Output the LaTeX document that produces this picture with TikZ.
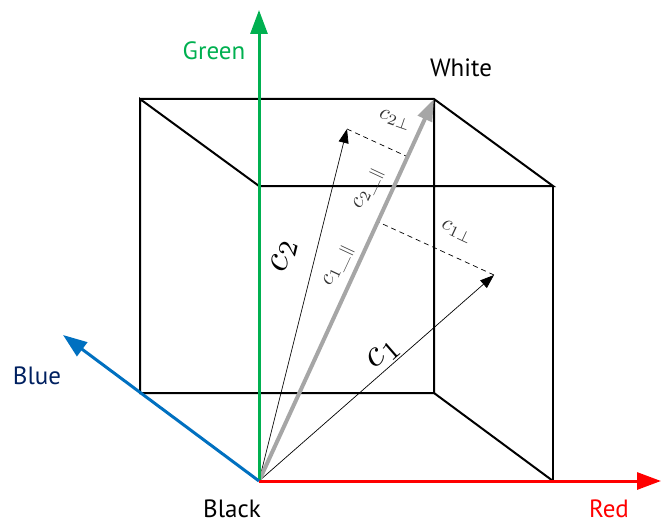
\documentclass[tikz,border=0pt]{standalone}
\usepackage{fontspec}
\newfontfamily\labfont{PT Sans}
\usetikzlibrary{arrows.meta,calc}
\definecolor{axgreen}{RGB}{0,176,80}
\definecolor{axred}{RGB}{255,0,0}
\definecolor{axblue}{RGB}{0,112,192}
\definecolor{navy}{RGB}{0,32,96}
\definecolor{vgray}{RGB}{166,166,166}
\tikzset{
  edge/.style={line width=2pt,black},
  axis/.style={line width=3pt,-{Triangle[length=24pt,width=17pt]}},
  vec/.style={line width=0.7pt,-{Triangle[length=14pt,width=10pt]}},
  proj/.style={line width=0.7pt,dash pattern=on 5pt off 4pt},
  axlabel/.style={font=\labfont\fontsize{25}{30}\selectfont,inner sep=0pt,anchor=base},
  biglab/.style={scale=3.8,inner sep=0pt},
  smalllab/.style={scale=2.2,inner sep=0pt,text=black!80},
}
\begin{document}
\begin{tikzpicture}[x=1pt,y=-1pt]
\useasboundingbox (0,0) rectangle (661,524);
\coordinate (O) at (259,481);
\coordinate (R) at (553,481);
\coordinate (G) at (259,186);
\coordinate (B) at (140,393);
\coordinate (RG) at (553,186);
\coordinate (GB) at (140,99);
\coordinate (RB) at (434,393);
\coordinate (W) at (434,99);
\coordinate (Rt) at (661,481);
\coordinate (Gt) at (259,10);
\coordinate (Bt) at (63,335);
\coordinate (C1) at (494,275);
\coordinate (C2) at (347,129);
\coordinate (P1) at ($(O)!(C1)!(W)$);
\coordinate (P2) at ($(O)!(C2)!(W)$);
% cube
\draw[edge] (GB) -- (W) -- (RG) -- (G) -- (GB) -- (B) -- (RB) -- (W);
\draw[edge] (RG) -- (R);
\draw[edge] (RB) -- (R);
% projections
\draw[proj] (C1) -- (P1);
\draw[proj] (C2) -- (P2);
% vectors
\draw[vec] (O) -- (C1);
\draw[vec] (O) -- (C2);
\draw[line width=4pt,vgray,-{Triangle[length=22pt,width=15pt]}] (O) -- (W);
% axes
\draw[axis,axgreen] (O) -- (Gt);
\draw[axis,axred] (O) -- (Rt);
\draw[axis,axblue] (O) -- (Bt);
% labels
\node[axlabel,text=axgreen] (lg) at (214,60) {Green};
\node[axlabel] (lw) at (461,77) {White};
\node[axlabel,text=navy] (lb) at (37,384) {Blue};
\node[axlabel] (lk) at (232,517) {Black};
\node[axlabel,text=axred] (lr) at (609,517) {Red};
\node[biglab,rotate=76] (l2) at (284,256) {$c_2$};
\node[biglab,rotate=41] (l1) at (384,354) {$c_1$};
\node[smalllab,rotate=65] (l1p) at (339,266) {$c_{1\_\|}$};
\node[smalllab,rotate=65] (l2p) at (369,189) {$c_{2\_\|}$};
\node[smalllab,rotate=-19] (l2o) at (395,120) {$c_{2\perp}$};
\node[smalllab,rotate=-25] (l1o) at (457,232) {$c_{1\perp}$};
\end{tikzpicture}
\end{document}
